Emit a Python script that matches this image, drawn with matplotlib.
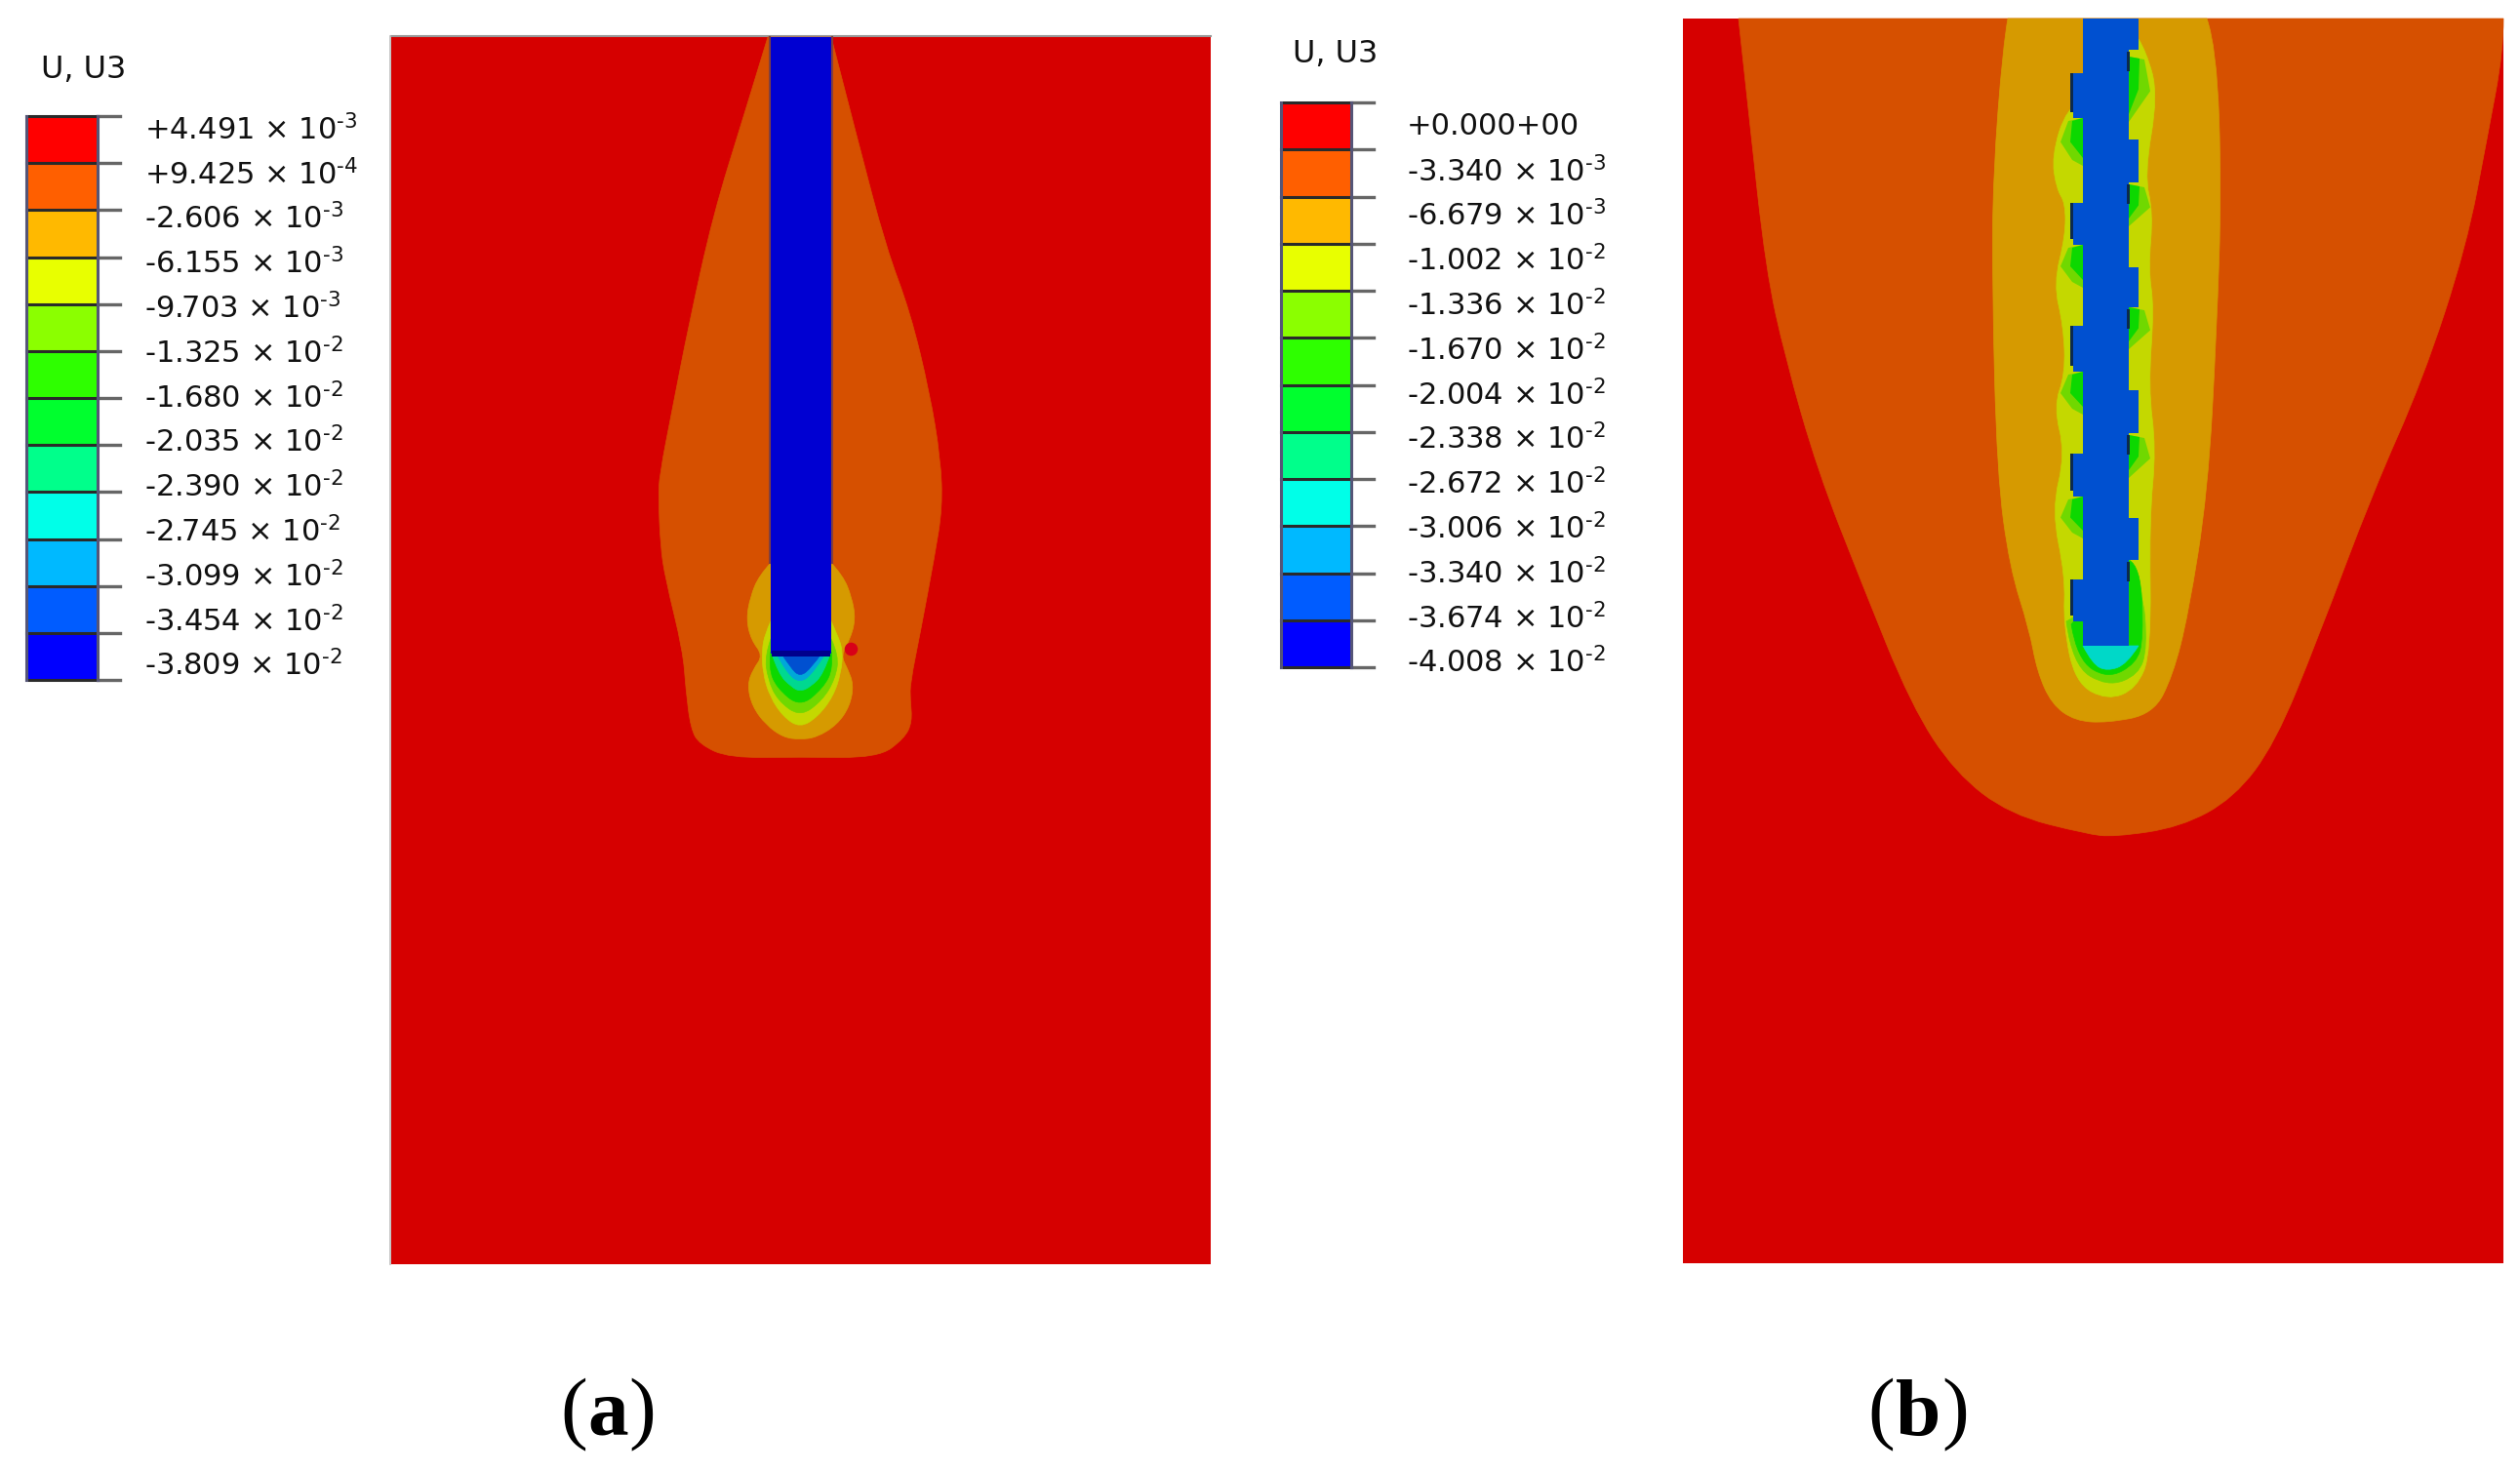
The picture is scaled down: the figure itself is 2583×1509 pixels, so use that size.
#!/usr/bin/env python3

import matplotlib
matplotlib.use('Agg')
import matplotlib.pyplot as plt
from matplotlib.path import Path
from matplotlib.patches import PathPatch

# Legend texts
labels_a = ['+4.491', '+9.425', '-2.606', '-6.155', '-9.703', '-1.325', '-1.680',
            '-2.035', '-2.390', '-2.745', '-3.099', '-3.454', '-3.809']
powers_a = [-3, -4, -3, -3, -3, -2, -2, -2, -2, -2, -2, -2, -2]
labels_b = ['+0.000', '-3.340', '-6.679', '-1.002', '-1.336', '-1.670', '-2.004',
            '-2.338', '-2.672', '-3.006', '-3.340', '-3.674', '-4.008']
powers_b = [None, -3, -3, -2, -2, -2, -2, -2, -2, -2, -2, -2, -2]
legend_colors = ['#ff0000', '#ff5f00', '#ffb900', '#e8ff00', '#8bff00', '#2eff00',
                 '#00ff2e', '#00ff8b', '#00ffe8', '#00b9ff', '#005cff', '#0000ff']
captions = ['a', 'b']
caption_x = [623, 1966]
caption_gap = [21, 24]

# Colours of the two contour plots (darker than the legend)
c_red = '#d60000'
c_orange = '#d65000'
c_amber = '#d69a00'
c_yellow = '#c4d800'
c_lime = '#70d800'
c_green = '#0cd800'
c_teal = '#00d890'
c_sky = '#00a8d8'
c_mid = '#0050d0'
c_blue = '#0000d2'
c_navy = '#00008c'

# Panel (a) contours in pixels
a_orange = [(787, 38), (762, 120), (731, 220), (706, 333), (689, 420), (676, 487), (675, 510),
            (677, 560), (682, 593), (700, 667), (703, 707), (708, 747), (717, 763), (747, 777),
            (820, 776), (900, 777), (927, 757), (935, 740), (933, 717), (933, 700), (943, 650),
            (958, 570), (966, 520), (964, 470), (953, 403), (933, 320), (908, 253), (880, 147), (852, 38)]
a_amber = [(790, 577), (778, 590), (769, 612), (765, 635), (770, 656), (782, 672), (772, 686), (766, 702),
           (771, 724), (785, 743), (803, 756), (820, 758), (837, 756), (858, 743), (871, 724),
           (875, 702), (869, 686), (862, 672), (871, 656), (877, 635), (873, 612), (864, 590), (852, 577)]
a_yellow = [(790, 637), (784, 650), (781, 667), (782, 690), (789, 714), (803, 735), (820, 746), (838, 735),
            (854, 714), (862, 690), (864, 667), (858, 650), (852, 637)]
a_lime = [(790, 655), (784, 672), (787, 696), (797, 718), (820, 735), (843, 718), (856, 696),
          (860, 672), (852, 655)]
a_green = [(790, 668), (788, 685), (796, 705), (820, 725), (844, 705), (854, 685), (852, 668)]
a_teal = [(791, 670), (798, 691), (811, 704), (820, 709), (831, 704), (844, 691), (851, 670)]
a_sky = [(796, 670), (805, 688), (820, 701), (835, 688), (846, 670)]
a_mid = [(801, 670), (810, 684), (820, 694), (832, 684), (842, 670)]
a_bar_x = [790, 852]
a_bar_y = [38, 670]
a_spot = (872, 665)

# Panel (b) contours
b_orange = [(1782, 19), (1793, 121), (1810, 276), (1830, 367), (1863, 482), (1908, 597), (1959, 723),
            (2004, 792), (2060, 835), (2139, 855), (2167, 858), (2235, 848), (2290, 818), (2332, 762),
            (2376, 654), (2432, 505), (2483, 390), (2528, 253), (2550, 138), (2566, 52), (2566, 19)]
b_amber = [(2058, 19), (2053, 48), (2043, 179), (2042, 291), (2047, 485), (2060, 582), (2080, 645),
           (2088, 688), (2103, 722), (2127, 739), (2160, 741), (2207, 732), (2227, 693), (2243, 630),
           (2263, 504), (2272, 339), (2277, 194), (2272, 48), (2262, 19)]
b_yellow = [(2135, 100), (2118, 111), (2103, 160), (2108, 194), (2117, 208), (2117, 242), (2105, 291),
            (2115, 334), (2117, 383), (2105, 417), (2117, 465), (2103, 523), (2117, 591), (2115, 640),
            (2127, 700), (2160, 718), (2190, 706), (2205, 669), (2203, 533), (2210, 460), (2202, 397),
            (2208, 315), (2202, 276), (2207, 218), (2198, 179), (2212, 97), (2200, 53), (2192, 40)]
b_lime = [(2118, 637), (2124, 682), (2160, 704), (2192, 692), (2201, 664), (2196, 600), (2182, 600)]
b_green = [(2123, 640), (2129, 676), (2160, 696), (2190, 680), (2197, 654), (2194, 580), (2182, 574)]
b_cyan = [(2135, 662), (2145, 681), (2160, 688), (2180, 681), (2192, 662)]
b_left_x = [2135, 2125, 2135, 2125, 2135, 2125, 2135, 2125, 2135, 2125, 2135]
b_left_y = [19, 75, 121, 208, 251, 334, 381, 465, 509, 594, 637, 662]
b_right_x = [2192, 2182, 2192, 2182, 2192, 2182, 2192, 2182, 2192, 2182]
b_right_y = [19, 51, 143, 187, 274, 315, 400, 444, 531, 574, 662]
# green spots next to the steps: top, bottom of each spot
b_spots_left = [(121, 170), (251, 295), (381, 425), (509, 552)]
b_spots_right = [(58, 125), (189, 232), (315, 358), (446, 490)]

fig = plt.figure(figsize=(25.83, 15.09), dpi=100)
ax = fig.add_axes([0, 0, 1, 1])
ax.set_xlim(0, 2583)
ax.set_ylim(1509, 0)
ax.axis('off')


def outline(points, color, z):
    # rounded closed outline through the read points
    verts = [points[0]]
    codes = [Path.MOVETO]
    for i in range(1, len(points) - 1):
        end = points[i + 1]
        if i < len(points) - 2:
            end = ((points[i][0] + points[i + 1][0]) / 2, (points[i][1] + points[i + 1][1]) / 2)
        verts += [points[i], end]
        codes += [Path.CURVE3, Path.CURVE3]
    verts.append(points[0])
    codes.append(Path.CLOSEPOLY)
    ax.add_patch(PathPatch(Path(verts, codes), fc=color, ec=color, lw=0.5, zorder=z))


def legend(left, right, tick_end, text_x, top, bottom, title_x, title_y, labels, powers, text_y0):
    step = (bottom - top) / 12
    for i, col in enumerate(legend_colors):
        ax.fill_between([left, right], top + i * step, top + (i + 1) * step, color=col, lw=0, zorder=2)
    for i in range(13):
        y = top + i * step
        ax.plot([right, tick_end], [y, y], color='#666666', lw=2.4, zorder=3)
        ax.plot([left, right], [y, y], color='#2a2a2a', lw=2.2, zorder=3)
    ax.plot([left, left], [top, bottom], color='#555577', lw=2.2, zorder=3)
    ax.plot([right, right], [top, bottom], color='#555577', lw=2.2, zorder=3)
    ax.text(title_x, title_y, 'U, U3', fontsize=23, color='#111111', va='center', ha='left')
    for i, lab in enumerate(labels):
        txt = lab + '+00'
        if powers[i] is not None:
            txt = lab + ' × 10$^{\\text{%d}}$' % powers[i]
        ax.text(text_x, text_y0 + i * 45.8, txt, fontsize=22, color='#111111',
                va='center_baseline', ha='left')


# Panel (a)
ax.fill_between([401, 1241], 38, 1296, color=c_red, lw=0, zorder=1)
ax.plot([401, 1241], [37, 37], color='#999999', lw=1.5, zorder=1)
ax.plot([400, 400], [37, 1296], color='#bbbbbb', lw=1.2, zorder=1)
outline(a_orange, c_orange, 2)
outline(a_amber, c_amber, 3)
outline(a_yellow, c_yellow, 4)
outline(a_lime, c_lime, 5)
outline(a_green, c_green, 6)
outline(a_teal, c_teal, 7)
outline(a_sky, c_sky, 8)
outline(a_mid, c_mid, 9)
ax.fill_between(a_bar_x, a_bar_y[0], a_bar_y[1], color=c_blue, lw=0, zorder=10)
ax.fill_between([a_bar_x[0] + 1, a_bar_x[1] - 1], a_bar_y[1] - 3, a_bar_y[1] + 3, color=c_navy, lw=0, zorder=10)
ax.plot([a_bar_x[0] - 1, a_bar_x[0] - 1], [38, 577], color='#804040', lw=1.5, zorder=10)
ax.plot([a_bar_x[1] + 1, a_bar_x[1] + 1], [38, 577], color='#804040', lw=1.5, zorder=10)
ax.scatter([a_spot[0]], [a_spot[1]], s=95, color='#d80018', lw=0, zorder=11)

# Panel (b)
ax.fill_between([1725, 2566], 19, 1295, color=c_red, lw=0, zorder=1)
outline(b_orange, c_orange, 2)
outline(b_amber, c_amber, 3)
outline(b_yellow, c_yellow, 4)
for top, bot in b_spots_left:
    ax.fill([2135, 2120, 2112, 2124, 2135], [top, top + 3, (top + bot) / 2, bot - 6, bot], color=c_lime, lw=0, zorder=5)
    ax.fill([2135, 2124, 2122, 2135], [top, top + 3, (top + bot) / 2, bot - 8], color=c_green, lw=0, zorder=6)
for top, bot in b_spots_right:
    ax.fill([2182, 2198, 2204, 2182], [top, top + 3, (top + bot) / 2 + 2, bot], color=c_lime, lw=0, zorder=5)
    ax.fill([2182, 2193, 2192, 2182], [top, top + 2, (top + bot) / 2, bot - 8], color=c_green, lw=0, zorder=6)
outline(b_lime, c_lime, 5)
outline(b_green, c_green, 6)
# the stepped bar
for i, x in enumerate(b_left_x):
    for j in range(len(b_right_x)):
        y0 = max(b_left_y[i], b_right_y[j])
        y1 = min(b_left_y[i + 1], b_right_y[j + 1])
        if y1 > y0:
            ax.fill_between([x, b_right_x[j]], y0, y1, color=c_mid, lw=0, zorder=10)
    if x == 2125:
        ax.fill_between([2122, 2125], b_left_y[i], b_left_y[i + 1] - 6, color='#0c2a4c', lw=0, zorder=11)
for i, x in enumerate(b_right_x):
    if x == 2182:
        ax.fill_between([2180, 2183], b_right_y[i] + 2, b_right_y[i] + 22, color='#0c2a4c', lw=0, zorder=11)
outline(b_cyan, '#00d8c8', 9)

# Legends
legend(27, 100, 123, 148, 119, 697, 42, 72, labels_a, powers_a, 130)
legend(1313, 1385, 1408, 1442, 105, 684, 1325, 56, labels_b, powers_b, 127)

# Captions
for name, x, gap in zip(captions, caption_x, caption_gap):
    ax.text(x - gap, 1451, '(', fontsize=60, family='Liberation Serif', ha='right', va='center')
    ax.text(x, 1451, name, fontsize=60, family='Liberation Serif', weight='bold', ha='center', va='center')
    ax.text(x + gap, 1451, ')', fontsize=60, family='Liberation Serif', ha='left', va='center')

fig.savefig('out.png', dpi=100, facecolor='white')
